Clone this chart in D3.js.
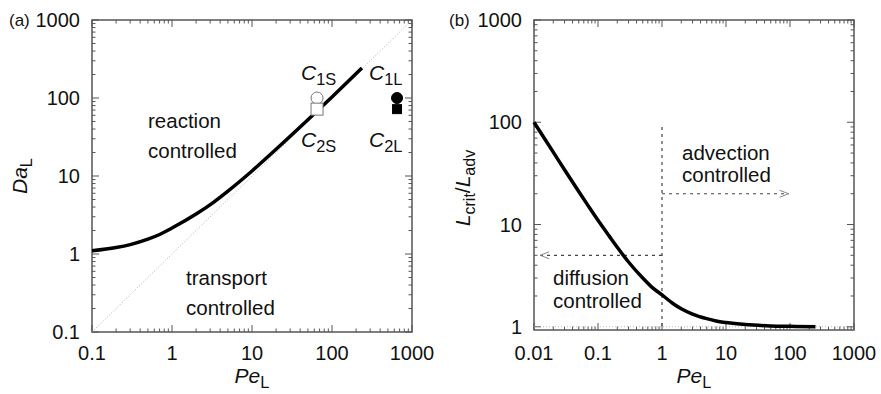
<!DOCTYPE html>
<html>
<head>
<meta charset="utf-8">
<script src="https://cdn.jsdelivr.net/npm/d3@7"></script>
<style>
  body { margin: 0; background: #fff; }
  text { font-family: "Liberation Sans", Arial, sans-serif; fill: #111; }
</style>
</head>
<body>
<svg id="chart" width="881" height="394"></svg>
<script>
// panel (a): critical Da vs Pe
var peA = [0.1, 0.2, 0.3, 0.5, 0.7, 1, 2, 3.3, 5, 10, 20, 50, 100, 237];
var daA = [1.1, 1.21, 1.32, 1.55, 1.78, 2.15, 3.25, 4.6, 6.4, 11.6, 22, 52.5, 103, 243];
var pointsPe = [65, 65, 650, 650];
var pointsDa = [100, 72, 100, 72];
var pointsKind = ["circle-open", "square-open", "circle-fill", "square-fill"];

// panel (b): L_crit / L_adv vs Pe
var peB = [0.01, 0.015, 0.02, 0.03, 0.05, 0.07, 0.1, 0.15, 0.2, 0.3, 0.5, 0.7, 1, 1.5, 2, 3, 5, 7, 10, 20, 50, 100, 250];
var lratio = [100, 67.5, 51, 34.3, 21, 15.3, 11, 7.7, 6, 4.3, 3, 2.43, 2.05, 1.68, 1.5, 1.33, 1.2, 1.14, 1.1, 1.05, 1.02, 1.01, 1.0];

var tickA = [0.1, 1, 10, 100, 1000];
var tickBx = [0.01, 0.1, 1, 10, 100, 1000];
var tickBy = [1, 10, 100, 1000];

var svg = d3.select("#chart");

var xa = d3.scaleLog().domain([0.1, 1000]).range([92, 412]);
var ya = d3.scaleLog().domain([0.1, 1000]).range([332, 20]);
var xb = d3.scaleLog().domain([0.01, 1000]).range([534, 854]);
var yb = d3.scaleLog().domain([0.93, 1000]).range([330, 20]);

function fmt(d) { return d >= 1 ? String(Math.round(d)) : String(+d.toPrecision(1)); }

function minors(lo, hi) {
  var out = [];
  for (var e = Math.floor(Math.log10(lo)); e < Math.ceil(Math.log10(hi)); e++) {
    for (var k = 2; k <= 9; k++) {
      var v = k * Math.pow(10, e);
      if (v > lo && v < hi) out.push(v);
    }
  }
  return out;
}

function frame(x, y, xt, yt) {
  var g = svg.append("g");
  var x0 = x.range()[0], x1 = x.range()[1], y0 = y.range()[0], y1 = y.range()[1];
  var col = "#555";
  var xd = x.domain(), yd = y.domain();
  var xm = minors(xd[0], xd[1]), ym = minors(yd[0], yd[1]);
  function tk(v, len, axis) {
    if (axis === "x") {
      var px = x(v);
      g.append("line").attr("x1", px).attr("x2", px).attr("y1", y0).attr("y2", y0 - len).attr("stroke", col);
      g.append("line").attr("x1", px).attr("x2", px).attr("y1", y1).attr("y2", y1 + len).attr("stroke", col);
    } else {
      var py = y(v);
      g.append("line").attr("y1", py).attr("y2", py).attr("x1", x0).attr("x2", x0 + len).attr("stroke", col);
      g.append("line").attr("y1", py).attr("y2", py).attr("x1", x1).attr("x2", x1 - len).attr("stroke", col);
    }
  }
  xm.forEach(function(v) { tk(v, 3.5, "x"); });
  ym.forEach(function(v) { tk(v, 3.5, "y"); });
  xt.forEach(function(v) { tk(v, 7, "x"); });
  yt.forEach(function(v) { tk(v, 7, "y"); });
  g.append("rect").attr("x", x0).attr("y", y1).attr("width", x1 - x0).attr("height", y0 - y1)
    .attr("fill", "none").attr("stroke", col).attr("stroke-width", 1.5);
  g.selectAll(".xl").data(xt).enter().append("text")
    .attr("x", function(d) { return x(d); }).attr("y", 360)
    .attr("text-anchor", "middle").attr("font-size", 20).text(fmt);
  g.selectAll(".yl").data(yt).enter().append("text")
    .attr("x", x0 - 12).attr("y", function(d) { return y(d); }).attr("dy", "0.36em")
    .attr("text-anchor", "end").attr("font-size", 20).text(fmt);
}

frame(xa, ya, tickA, tickA);
frame(xb, yb, tickBx, tickBy);

// helper for italic symbol + upright subscript
function subLabel(g, x, y, main, sub, size, anchor) {
  var t = g.append("text").attr("x", x).attr("y", y).attr("font-size", size)
    .attr("text-anchor", anchor || "start");
  t.append("tspan").attr("font-style", "italic").text(main);
  t.append("tspan").attr("font-size", size * 0.78).attr("dy", size * 0.25).text(sub);
  return t;
}

// ---- panel (a)
var ga = svg.append("g");
ga.append("text").attr("x", 9).attr("y", 26).attr("font-size", 17).text("(a)");
ga.append("line").attr("x1", xa(0.1)).attr("y1", ya(0.1)).attr("x2", xa(1000)).attr("y2", ya(1000))
  .attr("stroke", "#999").attr("stroke-width", 0.8).attr("stroke-dasharray", "1,2");

var lineA = d3.line().x(function(d) { return xa(d[0]); }).y(function(d) { return ya(d[1]); })
  .curve(d3.curveMonotoneX);
ga.append("path").datum(d3.zip(peA, daA)).attr("d", lineA)
  .attr("fill", "none").attr("stroke", "#000").attr("stroke-width", 3.5);

pointsPe.forEach(function(p, i) {
  var cx = xa(p), cy = ya(pointsDa[i]), k = pointsKind[i];
  var filled = k.indexOf("fill") > 0;
  if (k.indexOf("circle") === 0) {
    ga.append("circle").attr("cx", cx).attr("cy", cy).attr("r", filled ? 5.5 : 6)
      .attr("fill", filled ? "#000" : "#fff").attr("stroke", filled ? "#000" : "#777").attr("stroke-width", 1);
  } else {
    var s = filled ? 9 : 12;
    ga.append("rect").attr("x", cx - s / 2).attr("y", cy - s / 2).attr("width", s).attr("height", s)
      .attr("fill", filled ? "#000" : "#fff").attr("stroke", filled ? "#000" : "#777").attr("stroke-width", 1);
  }
});

subLabel(ga, 301, 80, "C", "1S", 21);
subLabel(ga, 369, 80, "C", "1L", 21);
subLabel(ga, 301, 147, "C", "2S", 21);
subLabel(ga, 369, 147, "C", "2L", 21);

ga.append("text").attr("x", 148).attr("y", 128).attr("font-size", 20.5).text("reaction");
ga.append("text").attr("x", 148).attr("y", 158).attr("font-size", 20.5).text("controlled");
ga.append("text").attr("x", 186).attr("y", 285).attr("font-size", 20.5).text("transport");
ga.append("text").attr("x", 186).attr("y", 315).attr("font-size", 20.5).text("controlled");

subLabel(ga, 252, 383, "Pe", "L", 21, "middle");
subLabel(ga.append("g").attr("transform", "translate(27,176) rotate(-90)"), 0, 0, "Da", "L", 21, "middle");

// ---- panel (b)
var gb = svg.append("g");
gb.append("text").attr("x", 449).attr("y", 26).attr("font-size", 17).text("(b)");
gb.append("line").attr("x1", xb(0.01)).attr("y1", yb(1)).attr("x2", xb(1000)).attr("y2", yb(1))
  .attr("stroke", "#aaa").attr("stroke-width", 0.8).attr("stroke-dasharray", "1,2");

var dash = "#444";
gb.append("line").attr("x1", xb(1)).attr("x2", xb(1)).attr("y1", yb(90)).attr("y2", yb(0.93))
  .attr("stroke", dash).attr("stroke-width", 1.2).attr("stroke-dasharray", "3,4");
gb.append("line").attr("x1", xb(1)).attr("x2", xb(95)).attr("y1", yb(20)).attr("y2", yb(20))
  .attr("stroke", dash).attr("stroke-width", 1.2).attr("stroke-dasharray", "3,4");
gb.append("path").attr("d", "M" + (xb(95) - 9) + "," + (yb(20) - 3.5) + "L" + xb(95) + "," + yb(20) + "L" + (xb(95) - 9) + "," + (yb(20) + 3.5))
  .attr("fill", "none").attr("stroke", "#888").attr("stroke-width", 1);
gb.append("line").attr("x1", xb(1)).attr("x2", xb(0.0125)).attr("y1", yb(5)).attr("y2", yb(5))
  .attr("stroke", dash).attr("stroke-width", 1.2).attr("stroke-dasharray", "3,4");
gb.append("path").attr("d", "M" + (xb(0.0125) + 9) + "," + (yb(5) - 3.5) + "L" + xb(0.0125) + "," + yb(5) + "L" + (xb(0.0125) + 9) + "," + (yb(5) + 3.5))
  .attr("fill", "none").attr("stroke", "#888").attr("stroke-width", 1);

var lineB = d3.line().x(function(d) { return xb(d[0]); }).y(function(d) { return yb(d[1]); })
  .curve(d3.curveMonotoneX);
gb.append("path").datum(d3.zip(peB, lratio)).attr("d", lineB)
  .attr("fill", "none").attr("stroke", "#000").attr("stroke-width", 3.5);

gb.append("text").attr("x", 682).attr("y", 160).attr("font-size", 20.5).text("advection");
gb.append("text").attr("x", 682).attr("y", 182).attr("font-size", 20.5).text("controlled");
gb.append("text").attr("x", 553).attr("y", 285).attr("font-size", 20.5).text("diffusion");
gb.append("text").attr("x", 553).attr("y", 308).attr("font-size", 20.5).text("controlled");

subLabel(gb, 694, 383, "Pe", "L", 21, "middle");
var yl = gb.append("text").attr("transform", "translate(470,188) rotate(-90)")
  .attr("text-anchor", "middle").attr("font-size", 21);
yl.append("tspan").attr("font-style", "italic").text("L");
yl.append("tspan").attr("font-size", 16).attr("dy", 5).text("crit");
yl.append("tspan").attr("dy", -5).text("/");
yl.append("tspan").attr("font-style", "italic").text("L");
yl.append("tspan").attr("font-size", 16).attr("dy", 5).text("adv");
</script>
</body>
</html>
